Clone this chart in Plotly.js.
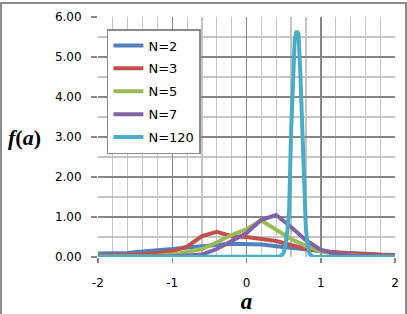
<!DOCTYPE html>
<html>
<head>
<meta charset="utf-8">
<script src="https://cdn.plot.ly/plotly-3.0.1.min.js"></script>
<style>
  html, body { margin: 0; padding: 0; background: #ffffff; }
  #wrap { position: relative; width: 407px; height: 314px; overflow: hidden; }
  #chart { width: 407px; height: 314px; }
  #frame { position: absolute; left: 0px; top: 2px; width: 407px; height: 330px; box-sizing: border-box;
           border: 2px solid #8c8c8c; pointer-events: none; }
</style>
</head>
<body>
<div id="wrap"><div id="chart"></div><div id="frame"></div></div>
<script>
// x grid for the N=2,3,5,7 series
var xValues = [-2, -1.8, -1.6, -1.4, -1.2, -1.0, -0.8, -0.6, -0.4, -0.2, 0, 0.2, 0.4, 0.6, 0.8, 1.0, 1.2, 1.4, 1.6, 1.8, 2.0];
var seriesN2 = [0.09, 0.09, 0.10, 0.14, 0.16, 0.20, 0.24, 0.28, 0.30, 0.33, 0.33, 0.31, 0.27, 0.23, 0.18, 0.14, 0.11, 0.10, 0.07, 0.06, 0.05];
var seriesN3 = [0.03, 0.04, 0.05, 0.07, 0.10, 0.15, 0.26, 0.52, 0.63, 0.52, 0.50, 0.46, 0.40, 0.30, 0.20, 0.15, 0.11, 0.09, 0.07, 0.05, 0.04];
var seriesN5 = [0.01, 0.01, 0.01, 0.02, 0.03, 0.06, 0.12, 0.20, 0.37, 0.55, 0.70, 0.91, 0.68, 0.45, 0.28, 0.14, 0.07, 0.04, 0.02, 0.01, 0.01];
var seriesN7 = [0.00, 0.00, 0.00, 0.01, 0.01, 0.02, 0.04, 0.06, 0.20, 0.40, 0.60, 0.93, 1.05, 0.75, 0.42, 0.18, 0.08, 0.04, 0.02, 0.01, 0.01];
// N=120 is sampled more finely around its peak
var xValuesN120 = [-2, -1, 0, 0.4, 0.45, 0.5, 0.525, 0.55, 0.575, 0.6, 0.625, 0.65, 0.675, 0.7, 0.725, 0.75, 0.775, 0.8, 0.825, 0.85, 0.9, 1, 2];
var seriesN120 = [0, 0, 0, 0, 0.01, 0.10, 0.30, 0.65, 1.20, 3.10, 4.70, 5.45, 5.65, 5.58, 4.60, 3.30, 1.40, 0.70, 0.30, 0.08, 0, 0, 0];
var seriesNames = ["N=2", "N=3", "N=5", "N=7", "N=120"];
var seriesColors = ["#4F81BD", "#C0504D", "#9BBB59", "#8064A2", "#4BACC6"];
var xTickValues = [-2, -1, 0, 1, 2];
var xTickLabels = ["-2", "-1", "0", "1", "2"];
var yTickValues = [0, 1, 2, 3, 4, 5, 6];
var yTickLabels = ["0.00", "1.00", "2.00", "3.00", "4.00", "5.00", "6.00"];

var xs = [xValues, xValues, xValues, xValues, xValuesN120];
var ys = [seriesN2, seriesN3, seriesN5, seriesN7, seriesN120];
var traces = [];
for (var i = 0; i < ys.length; i++) {
  traces.push({
    type: "scatter", mode: "lines",
    x: xs[i], y: ys[i], name: seriesNames[i],
    legendgroup: "g" + i,
    line: { color: seriesColors[i], width: 4 },
    hoverinfo: "skip"
  });
}

var majorGrid = "#878787", minorGrid = "#c4c4c4";
var layout = {
  width: 407, height: 314,
  margin: { l: 98, r: 12, t: 17, b: 57 },
  paper_bgcolor: "#ffffff", plot_bgcolor: "#ffffff",
  font: { family: "DejaVu Sans", size: 12, color: "#000000" },
  showlegend: true,
  legend: {
    x: 0.03, y: 0.95, xanchor: "left", yanchor: "top",
    bgcolor: "#ffffff", bordercolor: "#8a8a8a", borderwidth: 1.5,
    font: { family: "DejaVu Sans", size: 13, color: "#000000" },
    tracegroupgap: 3, traceorder: "grouped"
  },
  xaxis: {
    range: [-2, 2], tickmode: "array", tickvals: xTickValues, ticktext: xTickLabels,
    showgrid: true, gridcolor: majorGrid, gridwidth: 1.5,
    zeroline: false, showline: false,
    ticks: "outside", ticklen: 5, tickwidth: 1.5, tickcolor: majorGrid,
    ticklabelstandoff: 10,
    minor: { tickmode: "linear", dtick: 0.2, tick0: 0, showgrid: true, gridcolor: minorGrid, gridwidth: 1.2, ticks: "" },
    title: { text: "<b><i>a</i></b>", font: { family: "Liberation Serif", size: 23, color: "#000000" }, standoff: 10 },
    fixedrange: true
  },
  yaxis: {
    range: [0, 6], tickmode: "array", tickvals: yTickValues, ticktext: yTickLabels,
    showgrid: true, gridcolor: majorGrid, gridwidth: 1.5,
    zeroline: false, showline: false,
    ticks: "outside", ticklen: 6, tickwidth: 1.5, tickcolor: majorGrid,
    ticklabelstandoff: 7,
    minor: { tickmode: "linear", dtick: 0.5, tick0: 0, showgrid: true, gridcolor: minorGrid, gridwidth: 1.2, ticks: "" },
    fixedrange: true
  },
  annotations: [{
    xref: "paper", yref: "paper", x: -0.247, y: 0.50, xanchor: "center", yanchor: "middle",
    text: "<b><i>f</i>(<i>a</i>)</b>", showarrow: false,
    font: { family: "Liberation Serif", size: 22, color: "#000000" }
  }]
};

Plotly.newPlot("chart", traces, layout, { staticPlot: true, displayModeBar: false });
</script>
</body>
</html>
